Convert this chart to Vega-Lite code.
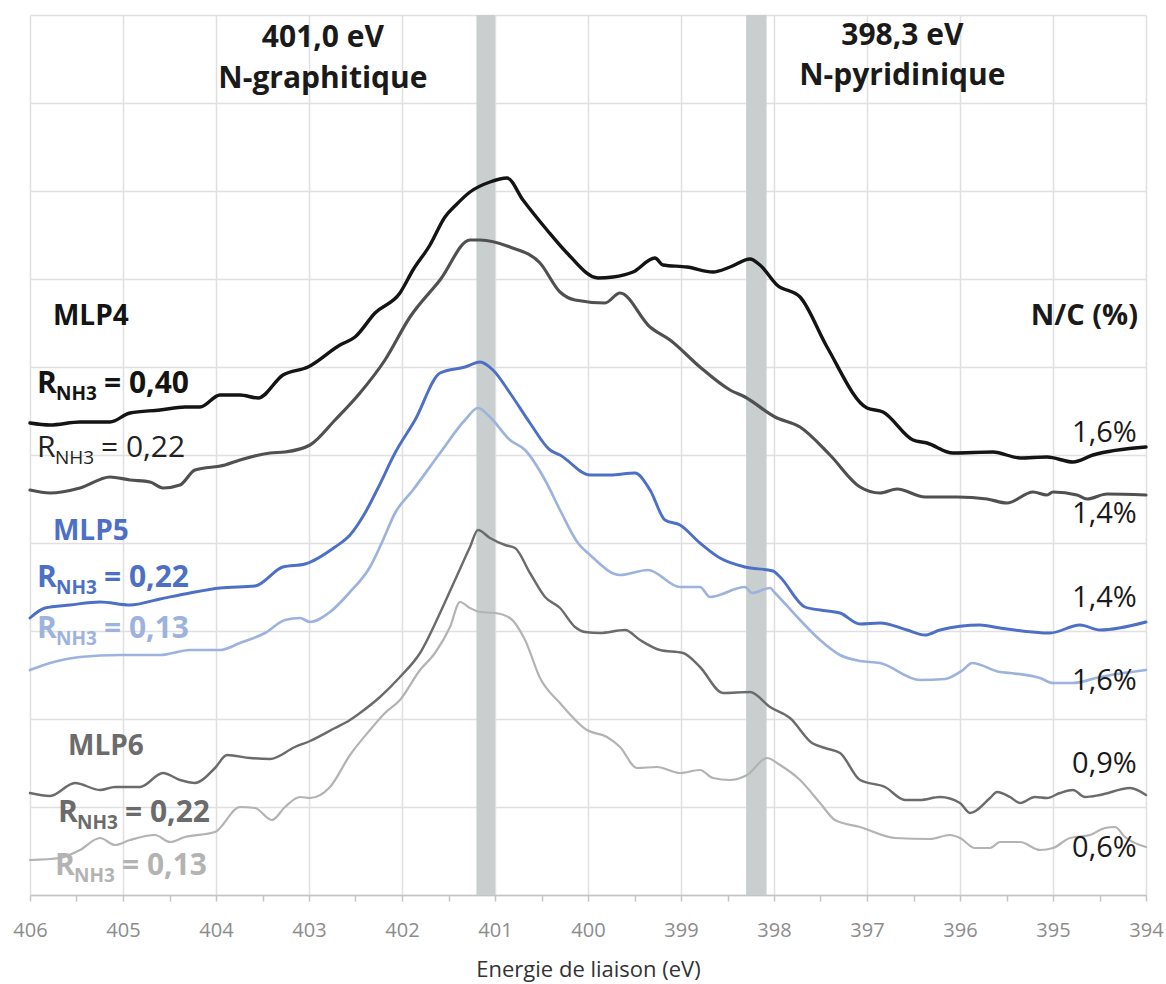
{
  "$schema": "https://vega.github.io/schema/vega-lite/v6.json",
  "width": 1116,
  "height": 880,
  "autosize": {"type": "none"},
  "padding": {"left": 30, "top": 15, "right": 20, "bottom": 89},
  "background": "white",
  "config": {"view": {"stroke": null}, "font": "Open Sans"},
  "datasets": {
    "bands": [
      {"E": 401.2, "E2": 401.0, "I": 0, "I2": 880},
      {"E": 398.3, "E2": 398.08, "I": 0, "I2": 880}
    ],
    "spectra": [
      {"s": "MLP4_040", "E": 406.0, "I": 472}, {"s": "MLP4_040", "E": 405.785, "I": 470}, {"s": "MLP4_040", "E": 405.462, "I": 473}, {"s": "MLP4_040", "E": 405.14, "I": 473}, {"s": "MLP4_040", "E": 404.925, "I": 482}, {"s": "MLP4_040", "E": 404.602, "I": 485}, {"s": "MLP4_040", "E": 404.333, "I": 488}, {"s": "MLP4_040", "E": 404.172, "I": 488}, {"s": "MLP4_040", "E": 403.957, "I": 500}, {"s": "MLP4_040", "E": 403.742, "I": 500}, {"s": "MLP4_040", "E": 403.548, "I": 497}, {"s": "MLP4_040", "E": 403.28, "I": 520}, {"s": "MLP4_040", "E": 403.011, "I": 528}, {"s": "MLP4_040", "E": 402.667, "I": 550}, {"s": "MLP4_040", "E": 402.505, "I": 558}, {"s": "MLP4_040", "E": 402.29, "I": 582}, {"s": "MLP4_040", "E": 402.022, "I": 602}, {"s": "MLP4_040", "E": 401.882, "I": 625}, {"s": "MLP4_040", "E": 401.699, "I": 650}, {"s": "MLP4_040", "E": 401.538, "I": 678}, {"s": "MLP4_040", "E": 401.42, "I": 690}, {"s": "MLP4_040", "E": 401.269, "I": 703}, {"s": "MLP4_040", "E": 401.054, "I": 713}, {"s": "MLP4_040", "E": 400.871, "I": 717}, {"s": "MLP4_040", "E": 400.699, "I": 695}, {"s": "MLP4_040", "E": 400.441, "I": 665}, {"s": "MLP4_040", "E": 400.226, "I": 642}, {"s": "MLP4_040", "E": 399.892, "I": 617}, {"s": "MLP4_040", "E": 399.731, "I": 618}, {"s": "MLP4_040", "E": 399.516, "I": 623}, {"s": "MLP4_040", "E": 399.28, "I": 637}, {"s": "MLP4_040", "E": 399.194, "I": 630}, {"s": "MLP4_040", "E": 398.935, "I": 628}, {"s": "MLP4_040", "E": 398.656, "I": 623}, {"s": "MLP4_040", "E": 398.473, "I": 628}, {"s": "MLP4_040", "E": 398.258, "I": 636}, {"s": "MLP4_040", "E": 398.151, "I": 630}, {"s": "MLP4_040", "E": 397.968, "I": 610}, {"s": "MLP4_040", "E": 397.72, "I": 598}, {"s": "MLP4_040", "E": 397.43, "I": 548}, {"s": "MLP4_040", "E": 397.0, "I": 487}, {"s": "MLP4_040", "E": 396.828, "I": 483}, {"s": "MLP4_040", "E": 396.505, "I": 455}, {"s": "MLP4_040", "E": 396.355, "I": 452}, {"s": "MLP4_040", "E": 396.075, "I": 442}, {"s": "MLP4_040", "E": 395.645, "I": 443}, {"s": "MLP4_040", "E": 395.355, "I": 437}, {"s": "MLP4_040", "E": 395.065, "I": 438}, {"s": "MLP4_040", "E": 394.785, "I": 433}, {"s": "MLP4_040", "E": 394.57, "I": 440}, {"s": "MLP4_040", "E": 394.0, "I": 448},

      {"s": "MLP4_022", "E": 406.0, "I": 405}, {"s": "MLP4_022", "E": 405.785, "I": 402}, {"s": "MLP4_022", "E": 405.462, "I": 407}, {"s": "MLP4_022", "E": 405.14, "I": 418}, {"s": "MLP4_022", "E": 404.925, "I": 415}, {"s": "MLP4_022", "E": 404.71, "I": 413}, {"s": "MLP4_022", "E": 404.57, "I": 407}, {"s": "MLP4_022", "E": 404.387, "I": 410}, {"s": "MLP4_022", "E": 404.226, "I": 425}, {"s": "MLP4_022", "E": 403.903, "I": 430}, {"s": "MLP4_022", "E": 403.742, "I": 435}, {"s": "MLP4_022", "E": 403.419, "I": 442}, {"s": "MLP4_022", "E": 403.258, "I": 443}, {"s": "MLP4_022", "E": 402.989, "I": 450}, {"s": "MLP4_022", "E": 402.72, "I": 475}, {"s": "MLP4_022", "E": 402.452, "I": 502}, {"s": "MLP4_022", "E": 402.183, "I": 535}, {"s": "MLP4_022", "E": 401.914, "I": 578}, {"s": "MLP4_022", "E": 401.591, "I": 615}, {"s": "MLP4_022", "E": 401.269, "I": 655}, {"s": "MLP4_022", "E": 401.161, "I": 655}, {"s": "MLP4_022", "E": 400.839, "I": 648}, {"s": "MLP4_022", "E": 400.516, "I": 632}, {"s": "MLP4_022", "E": 400.301, "I": 603}, {"s": "MLP4_022", "E": 400.14, "I": 595}, {"s": "MLP4_022", "E": 399.817, "I": 592}, {"s": "MLP4_022", "E": 399.656, "I": 602}, {"s": "MLP4_022", "E": 399.333, "I": 568}, {"s": "MLP4_022", "E": 399.118, "I": 555}, {"s": "MLP4_022", "E": 398.796, "I": 528}, {"s": "MLP4_022", "E": 398.473, "I": 505}, {"s": "MLP4_022", "E": 398.312, "I": 498}, {"s": "MLP4_022", "E": 397.989, "I": 478}, {"s": "MLP4_022", "E": 397.72, "I": 468}, {"s": "MLP4_022", "E": 397.398, "I": 440}, {"s": "MLP4_022", "E": 397.075, "I": 408}, {"s": "MLP4_022", "E": 396.86, "I": 402}, {"s": "MLP4_022", "E": 396.677, "I": 406}, {"s": "MLP4_022", "E": 396.376, "I": 398}, {"s": "MLP4_022", "E": 396.032, "I": 398}, {"s": "MLP4_022", "E": 395.71, "I": 396}, {"s": "MLP4_022", "E": 395.495, "I": 392}, {"s": "MLP4_022", "E": 395.215, "I": 403}, {"s": "MLP4_022", "E": 395.065, "I": 400}, {"s": "MLP4_022", "E": 395.0, "I": 403}, {"s": "MLP4_022", "E": 394.742, "I": 400}, {"s": "MLP4_022", "E": 394.634, "I": 396}, {"s": "MLP4_022", "E": 394.419, "I": 401}, {"s": "MLP4_022", "E": 394.0, "I": 400},

      {"s": "MLP5_022", "E": 406.0, "I": 277}, {"s": "MLP5_022", "E": 405.839, "I": 287}, {"s": "MLP5_022", "E": 405.57, "I": 290}, {"s": "MLP5_022", "E": 405.247, "I": 293}, {"s": "MLP5_022", "E": 404.925, "I": 290}, {"s": "MLP5_022", "E": 404.602, "I": 296}, {"s": "MLP5_022", "E": 404.28, "I": 302}, {"s": "MLP5_022", "E": 403.957, "I": 307}, {"s": "MLP5_022", "E": 403.581, "I": 309}, {"s": "MLP5_022", "E": 403.28, "I": 328}, {"s": "MLP5_022", "E": 403.043, "I": 331}, {"s": "MLP5_022", "E": 402.72, "I": 348}, {"s": "MLP5_022", "E": 402.559, "I": 360}, {"s": "MLP5_022", "E": 402.398, "I": 382}, {"s": "MLP5_022", "E": 402.258, "I": 407}, {"s": "MLP5_022", "E": 402.075, "I": 442}, {"s": "MLP5_022", "E": 401.86, "I": 475}, {"s": "MLP5_022", "E": 401.591, "I": 522}, {"s": "MLP5_022", "E": 401.323, "I": 528}, {"s": "MLP5_022", "E": 401.161, "I": 533}, {"s": "MLP5_022", "E": 401.022, "I": 525}, {"s": "MLP5_022", "E": 400.839, "I": 502}, {"s": "MLP5_022", "E": 400.624, "I": 472}, {"s": "MLP5_022", "E": 400.409, "I": 445}, {"s": "MLP5_022", "E": 400.301, "I": 440}, {"s": "MLP5_022", "E": 399.978, "I": 420}, {"s": "MLP5_022", "E": 399.763, "I": 420}, {"s": "MLP5_022", "E": 399.495, "I": 422}, {"s": "MLP5_022", "E": 399.333, "I": 405}, {"s": "MLP5_022", "E": 399.172, "I": 375}, {"s": "MLP5_022", "E": 399.011, "I": 370}, {"s": "MLP5_022", "E": 398.796, "I": 352}, {"s": "MLP5_022", "E": 398.581, "I": 337}, {"s": "MLP5_022", "E": 398.312, "I": 328}, {"s": "MLP5_022", "E": 398.011, "I": 324}, {"s": "MLP5_022", "E": 397.935, "I": 318}, {"s": "MLP5_022", "E": 397.667, "I": 288}, {"s": "MLP5_022", "E": 397.505, "I": 285}, {"s": "MLP5_022", "E": 397.29, "I": 282}, {"s": "MLP5_022", "E": 397.075, "I": 271}, {"s": "MLP5_022", "E": 396.86, "I": 272}, {"s": "MLP5_022", "E": 396.57, "I": 265}, {"s": "MLP5_022", "E": 396.376, "I": 260}, {"s": "MLP5_022", "E": 396.215, "I": 265}, {"s": "MLP5_022", "E": 395.785, "I": 270}, {"s": "MLP5_022", "E": 395.57, "I": 267}, {"s": "MLP5_022", "E": 395.032, "I": 262}, {"s": "MLP5_022", "E": 394.71, "I": 270}, {"s": "MLP5_022", "E": 394.495, "I": 265}, {"s": "MLP5_022", "E": 394.0, "I": 273},

      {"s": "MLP5_013", "E": 406.0, "I": 225}, {"s": "MLP5_013", "E": 405.785, "I": 232}, {"s": "MLP5_013", "E": 405.462, "I": 238}, {"s": "MLP5_013", "E": 405.032, "I": 240}, {"s": "MLP5_013", "E": 404.602, "I": 240}, {"s": "MLP5_013", "E": 404.28, "I": 245}, {"s": "MLP5_013", "E": 403.957, "I": 245}, {"s": "MLP5_013", "E": 403.742, "I": 252}, {"s": "MLP5_013", "E": 403.473, "I": 262}, {"s": "MLP5_013", "E": 403.258, "I": 275}, {"s": "MLP5_013", "E": 403.097, "I": 277}, {"s": "MLP5_013", "E": 402.989, "I": 273}, {"s": "MLP5_013", "E": 402.774, "I": 283}, {"s": "MLP5_013", "E": 402.559, "I": 303}, {"s": "MLP5_013", "E": 402.344, "I": 328}, {"s": "MLP5_013", "E": 402.204, "I": 355}, {"s": "MLP5_013", "E": 402.075, "I": 382}, {"s": "MLP5_013", "E": 401.882, "I": 405}, {"s": "MLP5_013", "E": 401.591, "I": 442}, {"s": "MLP5_013", "E": 401.323, "I": 475}, {"s": "MLP5_013", "E": 401.183, "I": 487}, {"s": "MLP5_013", "E": 401.054, "I": 478}, {"s": "MLP5_013", "E": 400.839, "I": 455}, {"s": "MLP5_013", "E": 400.677, "I": 445}, {"s": "MLP5_013", "E": 400.462, "I": 415}, {"s": "MLP5_013", "E": 400.301, "I": 385}, {"s": "MLP5_013", "E": 400.108, "I": 352}, {"s": "MLP5_013", "E": 399.978, "I": 340}, {"s": "MLP5_013", "E": 399.656, "I": 320}, {"s": "MLP5_013", "E": 399.355, "I": 325}, {"s": "MLP5_013", "E": 399.011, "I": 308}, {"s": "MLP5_013", "E": 398.796, "I": 308}, {"s": "MLP5_013", "E": 398.688, "I": 298}, {"s": "MLP5_013", "E": 398.312, "I": 308}, {"s": "MLP5_013", "E": 398.237, "I": 302}, {"s": "MLP5_013", "E": 398.043, "I": 307}, {"s": "MLP5_013", "E": 397.989, "I": 302}, {"s": "MLP5_013", "E": 397.72, "I": 275}, {"s": "MLP5_013", "E": 397.505, "I": 255}, {"s": "MLP5_013", "E": 397.29, "I": 240}, {"s": "MLP5_013", "E": 397.075, "I": 234}, {"s": "MLP5_013", "E": 396.86, "I": 232}, {"s": "MLP5_013", "E": 396.43, "I": 215}, {"s": "MLP5_013", "E": 396.161, "I": 216}, {"s": "MLP5_013", "E": 395.968, "I": 225}, {"s": "MLP5_013", "E": 395.871, "I": 232}, {"s": "MLP5_013", "E": 395.57, "I": 223}, {"s": "MLP5_013", "E": 395.462, "I": 222}, {"s": "MLP5_013", "E": 395.14, "I": 217}, {"s": "MLP5_013", "E": 395.0, "I": 212}, {"s": "MLP5_013", "E": 394.785, "I": 212}, {"s": "MLP5_013", "E": 394.495, "I": 218}, {"s": "MLP5_013", "E": 394.0, "I": 225},

      {"s": "MLP6_022", "E": 406.0, "I": 102}, {"s": "MLP6_022", "E": 405.785, "I": 99}, {"s": "MLP6_022", "E": 405.516, "I": 112}, {"s": "MLP6_022", "E": 405.247, "I": 105}, {"s": "MLP6_022", "E": 405.086, "I": 108}, {"s": "MLP6_022", "E": 404.817, "I": 108}, {"s": "MLP6_022", "E": 404.57, "I": 122}, {"s": "MLP6_022", "E": 404.387, "I": 115}, {"s": "MLP6_022", "E": 404.226, "I": 112}, {"s": "MLP6_022", "E": 404.011, "I": 127}, {"s": "MLP6_022", "E": 403.882, "I": 140}, {"s": "MLP6_022", "E": 403.634, "I": 137}, {"s": "MLP6_022", "E": 403.419, "I": 136}, {"s": "MLP6_022", "E": 403.151, "I": 148}, {"s": "MLP6_022", "E": 402.989, "I": 154}, {"s": "MLP6_022", "E": 402.72, "I": 167}, {"s": "MLP6_022", "E": 402.559, "I": 175}, {"s": "MLP6_022", "E": 402.452, "I": 182}, {"s": "MLP6_022", "E": 402.237, "I": 198}, {"s": "MLP6_022", "E": 402.022, "I": 218}, {"s": "MLP6_022", "E": 401.806, "I": 242}, {"s": "MLP6_022", "E": 401.591, "I": 282}, {"s": "MLP6_022", "E": 401.43, "I": 315}, {"s": "MLP6_022", "E": 401.269, "I": 348}, {"s": "MLP6_022", "E": 401.183, "I": 365}, {"s": "MLP6_022", "E": 401.054, "I": 357}, {"s": "MLP6_022", "E": 400.892, "I": 350}, {"s": "MLP6_022", "E": 400.785, "I": 347}, {"s": "MLP6_022", "E": 400.624, "I": 322}, {"s": "MLP6_022", "E": 400.462, "I": 298}, {"s": "MLP6_022", "E": 400.301, "I": 287}, {"s": "MLP6_022", "E": 400.14, "I": 268}, {"s": "MLP6_022", "E": 400.032, "I": 263}, {"s": "MLP6_022", "E": 399.871, "I": 262}, {"s": "MLP6_022", "E": 399.602, "I": 265}, {"s": "MLP6_022", "E": 399.441, "I": 255}, {"s": "MLP6_022", "E": 399.226, "I": 245}, {"s": "MLP6_022", "E": 398.978, "I": 242}, {"s": "MLP6_022", "E": 398.796, "I": 228}, {"s": "MLP6_022", "E": 398.548, "I": 202}, {"s": "MLP6_022", "E": 398.258, "I": 203}, {"s": "MLP6_022", "E": 398.043, "I": 188}, {"s": "MLP6_022", "E": 397.828, "I": 177}, {"s": "MLP6_022", "E": 397.591, "I": 152}, {"s": "MLP6_022", "E": 397.452, "I": 147}, {"s": "MLP6_022", "E": 397.29, "I": 142}, {"s": "MLP6_022", "E": 397.075, "I": 115}, {"s": "MLP6_022", "E": 396.806, "I": 108}, {"s": "MLP6_022", "E": 396.591, "I": 95}, {"s": "MLP6_022", "E": 396.43, "I": 95}, {"s": "MLP6_022", "E": 396.215, "I": 98}, {"s": "MLP6_022", "E": 396.0, "I": 92}, {"s": "MLP6_022", "E": 395.892, "I": 82}, {"s": "MLP6_022", "E": 395.677, "I": 97}, {"s": "MLP6_022", "E": 395.602, "I": 103}, {"s": "MLP6_022", "E": 395.462, "I": 98}, {"s": "MLP6_022", "E": 395.355, "I": 92}, {"s": "MLP6_022", "E": 395.194, "I": 98}, {"s": "MLP6_022", "E": 395.065, "I": 97}, {"s": "MLP6_022", "E": 394.925, "I": 102}, {"s": "MLP6_022", "E": 394.785, "I": 105}, {"s": "MLP6_022", "E": 394.656, "I": 98}, {"s": "MLP6_022", "E": 394.495, "I": 100}, {"s": "MLP6_022", "E": 394.172, "I": 107}, {"s": "MLP6_022", "E": 394.0, "I": 100},

      {"s": "MLP6_013", "E": 406.0, "I": 35}, {"s": "MLP6_013", "E": 405.677, "I": 37}, {"s": "MLP6_013", "E": 405.462, "I": 45}, {"s": "MLP6_013", "E": 405.247, "I": 57}, {"s": "MLP6_013", "E": 405.086, "I": 50}, {"s": "MLP6_013", "E": 404.925, "I": 55}, {"s": "MLP6_013", "E": 404.656, "I": 60}, {"s": "MLP6_013", "E": 404.495, "I": 53}, {"s": "MLP6_013", "E": 404.333, "I": 58}, {"s": "MLP6_013", "E": 404.011, "I": 63}, {"s": "MLP6_013", "E": 403.742, "I": 88}, {"s": "MLP6_013", "E": 403.581, "I": 87}, {"s": "MLP6_013", "E": 403.398, "I": 75}, {"s": "MLP6_013", "E": 403.258, "I": 88}, {"s": "MLP6_013", "E": 403.097, "I": 98}, {"s": "MLP6_013", "E": 402.989, "I": 97}, {"s": "MLP6_013", "E": 402.774, "I": 108}, {"s": "MLP6_013", "E": 402.559, "I": 140}, {"s": "MLP6_013", "E": 402.344, "I": 165}, {"s": "MLP6_013", "E": 402.183, "I": 182}, {"s": "MLP6_013", "E": 402.022, "I": 195}, {"s": "MLP6_013", "E": 401.806, "I": 225}, {"s": "MLP6_013", "E": 401.645, "I": 242}, {"s": "MLP6_013", "E": 401.484, "I": 268}, {"s": "MLP6_013", "E": 401.376, "I": 293}, {"s": "MLP6_013", "E": 401.269, "I": 287}, {"s": "MLP6_013", "E": 401.161, "I": 283}, {"s": "MLP6_013", "E": 401.0, "I": 282}, {"s": "MLP6_013", "E": 400.839, "I": 277}, {"s": "MLP6_013", "E": 400.677, "I": 255}, {"s": "MLP6_013", "E": 400.516, "I": 217}, {"s": "MLP6_013", "E": 400.301, "I": 192}, {"s": "MLP6_013", "E": 400.011, "I": 165}, {"s": "MLP6_013", "E": 399.796, "I": 158}, {"s": "MLP6_013", "E": 399.656, "I": 148}, {"s": "MLP6_013", "E": 399.473, "I": 127}, {"s": "MLP6_013", "E": 399.258, "I": 128}, {"s": "MLP6_013", "E": 399.011, "I": 122}, {"s": "MLP6_013", "E": 398.796, "I": 125}, {"s": "MLP6_013", "E": 398.656, "I": 117}, {"s": "MLP6_013", "E": 398.473, "I": 115}, {"s": "MLP6_013", "E": 398.29, "I": 120}, {"s": "MLP6_013", "E": 398.075, "I": 137}, {"s": "MLP6_013", "E": 397.935, "I": 130}, {"s": "MLP6_013", "E": 397.72, "I": 115}, {"s": "MLP6_013", "E": 397.505, "I": 92}, {"s": "MLP6_013", "E": 397.344, "I": 75}, {"s": "MLP6_013", "E": 397.075, "I": 68}, {"s": "MLP6_013", "E": 396.699, "I": 57}, {"s": "MLP6_013", "E": 396.323, "I": 56}, {"s": "MLP6_013", "E": 396.108, "I": 60}, {"s": "MLP6_013", "E": 396.0, "I": 57}, {"s": "MLP6_013", "E": 395.839, "I": 47}, {"s": "MLP6_013", "E": 395.677, "I": 47}, {"s": "MLP6_013", "E": 395.57, "I": 53}, {"s": "MLP6_013", "E": 395.355, "I": 53}, {"s": "MLP6_013", "E": 395.14, "I": 45}, {"s": "MLP6_013", "E": 395.0, "I": 47}, {"s": "MLP6_013", "E": 394.817, "I": 57}, {"s": "MLP6_013", "E": 394.602, "I": 60}, {"s": "MLP6_013", "E": 394.441, "I": 67}, {"s": "MLP6_013", "E": 394.333, "I": 68}, {"s": "MLP6_013", "E": 394.226, "I": 58}, {"s": "MLP6_013", "E": 394.0, "I": 48}
    ],
    "headers": [
      {"t": "401,0 eV", "E": 402.85, "I": 848},
      {"t": "N-graphitique", "E": 402.85, "I": 807},
      {"t": "398,3 eV", "E": 396.62, "I": 850},
      {"t": "N-pyridinique", "E": 396.62, "I": 810}
    ],
    "names": [
      {"t": "MLP4", "s": "MLP4_040", "E": 405.753, "I": 570},
      {"t": "MLP5", "s": "MLP5_022", "E": 405.753, "I": 355},
      {"t": "MLP6", "s": "MLP6_022", "E": 405.591, "I": 140}
    ],
    "nc": [
      {"t": "N/C (%)", "E": 394.086, "I": 570}
    ],
    "pct": [
      {"t": "1,6%", "E": 394.1, "I": 453},
      {"t": "1,4%", "E": 394.1, "I": 372},
      {"t": "1,4%", "E": 394.1, "I": 288},
      {"t": "1,6%", "E": 394.1, "I": 205},
      {"t": "0,9%", "E": 394.1, "I": 122},
      {"t": "0,6%", "E": 394.1, "I": 38}
    ],
    "rlabels": [
      {"s": "MLP4_040", "E": 405.925, "I": 502, "v": "= 0,40"},
      {"s": "MLP4_022", "E": 405.925, "I": 438, "v": "= 0,22"},
      {"s": "MLP5_022", "E": 405.925, "I": 308, "v": "= 0,22"},
      {"s": "MLP5_013", "E": 405.925, "I": 257, "v": "= 0,13"},
      {"s": "MLP6_022", "E": 405.699, "I": 73, "v": "= 0,22"},
      {"s": "MLP6_013", "E": 405.731, "I": 20, "v": "= 0,13"}
    ]
  },
  "encoding": {
    "x": {
      "field": "E",
      "type": "quantitative",
      "scale": {"domain": [394, 406], "reverse": true, "nice": false, "zero": false},
      "axis": {
        "values": [394, 394.5, 395, 395.5, 396, 396.5, 397, 397.5, 398, 398.5, 399, 399.5, 400, 400.5, 401, 401.5, 402, 402.5, 403, 403.5, 404, 404.5, 405, 405.5, 406],
        "labelExpr": "datum.value % 1 === 0 ? format(datum.value, 'd') : ''",
        "labelFont": "Open Sans",
        "labelFontSize": 20,
        "labelColor": "#8c8c8c",
        "labelPadding": 19,
        "labelFlush": false,
        "labelOverlap": false,
        "tickSize": 6,
        "tickColor": "#c4c4c4",
        "tickWidth": 1.5,
        "domainColor": "#c4c4c4",
        "domainWidth": 1.5,
        "grid": true,
        "gridColor": "#e0e0e0",
        "gridWidth": 1.5,
        "gridOpacity": {"condition": {"test": "datum.value % 1 !== 0", "value": 0}, "value": 1},
        "title": "Energie de liaison (eV)",
        "titleFont": "Open Sans",
        "titleFontSize": 22,
        "titleFontWeight": "normal",
        "titleColor": "#333333",
        "titlePadding": 19
      }
    },
    "y": {
      "field": "I",
      "type": "quantitative",
      "scale": {"domain": [0, 880], "nice": false, "zero": false},
      "axis": {
        "values": [0, 88, 176, 264, 352, 440, 528, 616, 704, 792, 880],
        "labels": false,
        "ticks": false,
        "domain": false,
        "title": null,
        "grid": true,
        "gridColor": "#e0e0e0",
        "gridWidth": 1.5,
        "minExtent": 0,
        "maxExtent": 0
      }
    }
  },
  "layer": [
    {
      "data": {"name": "bands"},
      "mark": {"type": "rect", "color": "#c9cfcf"},
      "encoding": {
        "x2": {"field": "E2"},
        "y2": {"field": "I2"}
      }
    },
    {
      "data": {"name": "spectra"},
      "mark": {"type": "line", "interpolate": "monotone", "strokeCap": "round", "strokeJoin": "round"},
      "encoding": {
        "color": {
          "field": "s",
          "type": "nominal",
          "scale": {
            "domain": ["MLP4_040", "MLP4_022", "MLP5_022", "MLP5_013", "MLP6_022", "MLP6_013"],
            "range": ["#141414", "#505050", "#4d70c6", "#9db3de", "#6b6b6b", "#b3b3b3"]
          },
          "legend": null
        },
        "strokeWidth": {
          "field": "s",
          "type": "nominal",
          "scale": {
            "domain": ["MLP4_040", "MLP4_022", "MLP5_022", "MLP5_013", "MLP6_022", "MLP6_013"],
            "range": [3.4, 2.2, 2.4, 1.8, 2.4, 1.8]
          },
          "legend": null
        }
      }
    },
    {
      "data": {"name": "headers"},
      "mark": {"type": "text", "font": "Open Sans", "fontWeight": "bold", "fontSize": 30, "align": "center", "baseline": "alphabetic", "color": "#1a1a1a"},
      "encoding": {"text": {"field": "t"}}
    },
    {
      "data": {"name": "names"},
      "mark": {"type": "text", "font": "Open Sans", "fontWeight": "bold", "fontSize": 28, "align": "left", "baseline": "alphabetic"},
      "encoding": {
        "text": {"field": "t"},
        "color": {"field": "s", "type": "nominal", "legend": null}
      }
    },
    {
      "data": {"name": "nc"},
      "mark": {"type": "text", "font": "Open Sans", "fontWeight": "bold", "fontSize": 29, "align": "right", "baseline": "alphabetic", "color": "#1a1a1a"},
      "encoding": {"text": {"field": "t"}}
    },
    {
      "data": {"name": "pct"},
      "mark": {"type": "text", "font": "Open Sans", "fontWeight": "normal", "fontSize": 29, "align": "right", "baseline": "alphabetic", "color": "#1a1a1a"},
      "encoding": {"text": {"field": "t"}}
    },
    {
      "data": {"name": "rlabels"},
      "transform": [{"filter": "datum.s !== 'MLP4_022'"}],
      "mark": {"type": "text", "font": "Open Sans", "fontWeight": "bold", "fontSize": 30, "align": "left", "baseline": "alphabetic"},
      "encoding": {
        "text": {"value": "R"},
        "color": {"field": "s", "type": "nominal", "legend": null}
      }
    },
    {
      "data": {"name": "rlabels"},
      "transform": [{"filter": "datum.s !== 'MLP4_022'"}],
      "mark": {"type": "text", "font": "Open Sans", "fontWeight": "bold", "fontSize": 19, "align": "left", "baseline": "alphabetic", "dx": 19, "dy": 7},
      "encoding": {
        "text": {"value": "NH3"},
        "color": {"field": "s", "type": "nominal", "legend": null}
      }
    },
    {
      "data": {"name": "rlabels"},
      "transform": [{"filter": "datum.s !== 'MLP4_022'"}],
      "mark": {"type": "text", "font": "Open Sans", "fontWeight": "bold", "fontSize": 30, "align": "left", "baseline": "alphabetic", "dx": 67},
      "encoding": {
        "text": {"field": "v"},
        "color": {"field": "s", "type": "nominal", "legend": null}
      }
    },
    {
      "data": {"name": "rlabels"},
      "transform": [{"filter": "datum.s === 'MLP4_022'"}],
      "mark": {"type": "text", "font": "Open Sans", "fontWeight": "normal", "fontSize": 30, "align": "left", "baseline": "alphabetic", "color": "#222222"},
      "encoding": {"text": {"value": "R"}}
    },
    {
      "data": {"name": "rlabels"},
      "transform": [{"filter": "datum.s === 'MLP4_022'"}],
      "mark": {"type": "text", "font": "Open Sans", "fontWeight": "normal", "fontSize": 19, "align": "left", "baseline": "alphabetic", "dx": 18, "dy": 7, "color": "#222222"},
      "encoding": {"text": {"value": "NH3"}}
    },
    {
      "data": {"name": "rlabels"},
      "transform": [{"filter": "datum.s === 'MLP4_022'"}],
      "mark": {"type": "text", "font": "Open Sans", "fontWeight": "normal", "fontSize": 30, "align": "left", "baseline": "alphabetic", "dx": 64, "color": "#222222"},
      "encoding": {"text": {"field": "v"}}
    }
  ]
}
